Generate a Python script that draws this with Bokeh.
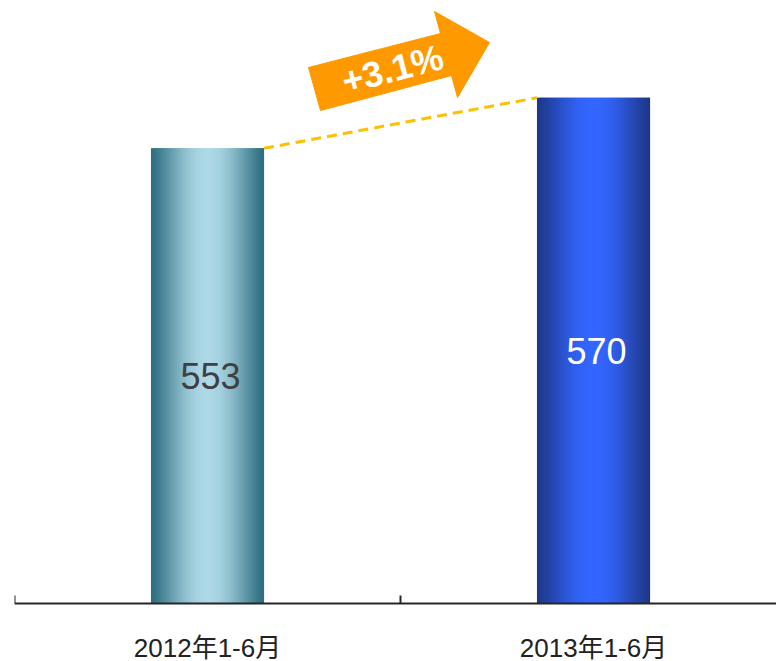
import math
from bokeh.plotting import figure
from bokeh.models import Range1d, Span
from bokeh.core.properties import value
from bokeh.embed import file_html
from bokeh.resources import INLINE

# ---- data ----
categories = ["2012年1-6月", "2013年1-6月"]
values = [553, 570]
label_colors = ["#404040", "#ffffff"]
edge_colors = ["#2e6e80", "#1e388a"]
center_colors = ["#add8e6", "#3366ff"]

# ---- geometry ----
BASE, Y_TOP = 400, 600          # value axis baseline and top
BAR_W = 0.293
W, H = 776, 661
BORDER_L, BORDER_T = 14, 8
PLOT_H = 595                    # pixels from top of frame to baseline
CAT_PX = 386.0
y_scale = PLOT_H / (Y_TOP - BASE)
frame_w = W - BORDER_L
frame_h = H - BORDER_T
x_end = frame_w / CAT_PX
y_low = BASE - (frame_h - PLOT_H) / y_scale

p = figure(width=W, height=H, x_range=Range1d(0, x_end), y_range=Range1d(y_low, Y_TOP),
           output_backend="svg", toolbar_location=None,
           min_border_left=BORDER_L, min_border_right=0, min_border_top=BORDER_T,
           min_border_bottom=0)
p.outline_line_color = None
p.grid.visible = False
p.xaxis.visible = False
p.yaxis.visible = False
p.background_fill_color = "white"
p.border_fill_color = "white"

centers = [i + 0.5 for i in range(len(categories))]

# axis line at baseline
p.add_layout(Span(location=BASE, dimension="width", line_color="#262626", line_width=2))

# category boundary ticks (pointing up from axis)
bounds = list(range(len(categories)))
tick_h = 8 / y_scale
p.segment(x0=bounds, y0=[BASE] * len(bounds), x1=bounds, y1=[BASE + tick_h] * len(bounds),
          line_color="#262626", line_width=2)

# category labels below the axis
p.text(x=centers, y=[BASE - 44 / y_scale] * len(centers), text=categories,
       text_align="center", text_baseline="middle",
       text_font=value("Liberation Sans, Noto Sans CJK SC"),
       text_font_size=value("26px"), text_color="#222222")

# gradient bars built from overlapping strips
def hex2rgb(h):
    h = h.lstrip("#")
    return tuple(int(h[k:k + 2], 16) for k in (0, 2, 4))

def mix(c1, c2, f):
    a, b = hex2rgb(c1), hex2rgb(c2)
    return "#%02x%02x%02x" % tuple(int(round(a[k] + (b[k] - a[k]) * f)) for k in range(3))

N = 70
dw = BAR_W / N
for cx, v, ec, cc in zip(centers, values, edge_colors, center_colors):
    lefts, rights, cols = [], [], []
    x_left, x_right = cx - BAR_W / 2, cx + BAR_W / 2
    for j in range(N):
        t = (j + 0.5) / N
        f = math.sin(math.pi * t) ** 1.3
        l = x_left + j * dw
        lefts.append(l)
        rights.append(min(l + 2.2 * dw, x_right))
        cols.append(mix(ec, cc, f))
    p.quad(left=lefts, right=rights, bottom=BASE, top=v, fill_color=cols, line_color=None)

# value labels
p.text(x=centers, y=[(BASE + v) / 2 for v in values], text=[str(v) for v in values],
       text_color=label_colors, text_font=value("Liberation Sans"), x_offset=3,
       text_font_size=value("36px"), text_align="center", text_baseline="middle")

# dashed connector between bar tops
p.line(x=[centers[0] + BAR_W / 2, centers[1] - BAR_W / 2], y=values,
       line_color="#ffc000", line_width=3, line_dash="10 6")

# growth arrow (decoration placed in pixel space of the frame)
FX0, FY0 = BORDER_L, BORDER_T  # page position of frame top-left
def px2data(px, py):
    return (px - FX0) / CAT_PX, Y_TOP - (py - FY0) / y_scale

arrow_px = [(320, 110), (308, 67), (440, 33), (434, 11), (489, 42), (457, 97), (451, 75)]
ax_pts = [px2data(a, b) for a, b in arrow_px]
p.patch(x=[q[0] for q in ax_pts], y=[q[1] for q in ax_pts], fill_color="#ff9900",
        line_color="#ff9900", line_width=1)

pct = (values[1] - values[0]) / values[0] * 100
tx, ty = px2data(392, 68.5)
p.text(x=[tx], y=[ty], text=["+%.1f%%" % pct], angle=math.atan2(34, 132),
       text_color="white", text_font=value("Liberation Sans"), text_font_style="bold",
       text_font_size=value("36px"), text_align="center", text_baseline="middle")

open("out.html", "w").write(file_html(p, INLINE))
